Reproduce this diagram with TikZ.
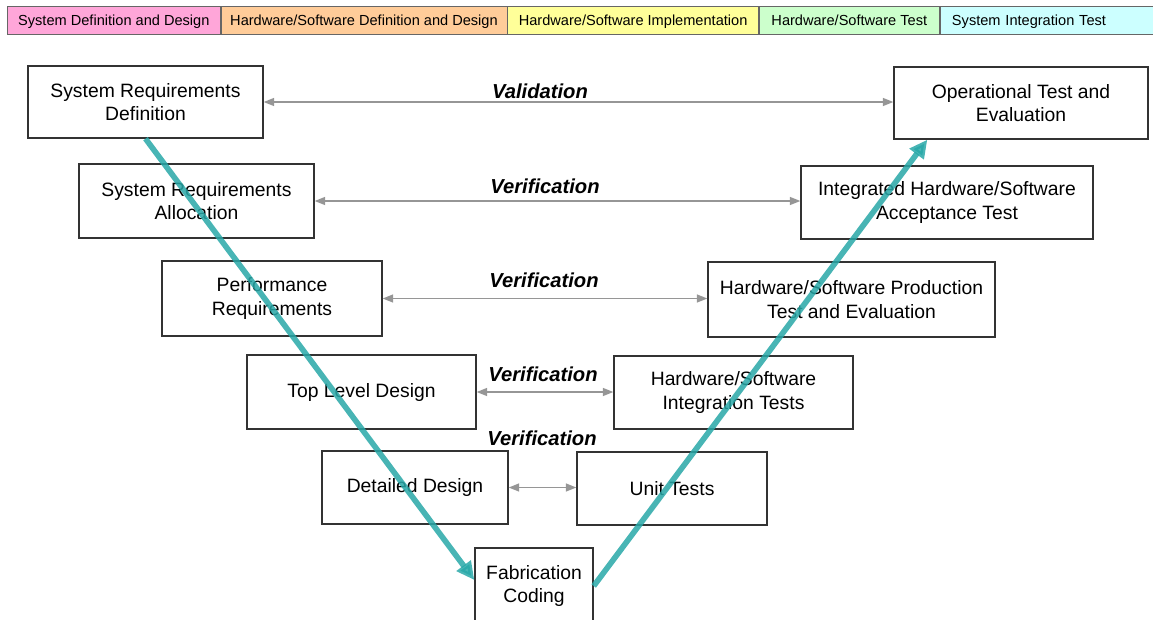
\documentclass[tikz,border=0pt]{standalone}
\usepackage{fontspec}
\setmainfont{Liberation Sans}
\usetikzlibrary{arrows.meta, positioning}
\usepackage{xcolor}
\definecolor{vTeal}{RGB}{40,168,168}
\definecolor{checkGray}{RGB}{150,150,150}
\definecolor{phasePink}{RGB}{255,166,217}
\definecolor{phaseOrange}{RGB}{255,204,153}
\definecolor{phaseYellow}{RGB}{255,255,153}
\definecolor{phaseGreen}{RGB}{204,255,204}
\definecolor{phaseCyan}{RGB}{204,255,255}
\tikzset{
    phase/.style={draw=black!60, thin, minimum height=0.56cm, inner sep=0pt, text height=1.6ex, text depth=0.45ex, font=\fontsize{8.3}{10}\selectfont},
    stage/.style={draw=black!80, line width=0.8pt, fill=white, align=center, inner sep=0pt, font=\fontsize{11}{13.2}\selectfont},
    check/.style={draw=checkGray, line width=0.8pt, {Triangle[length=2.1mm, width=1.6mm]}-{Triangle[length=2.1mm, width=1.6mm]}},
    checklabel/.style={font=\fontsize{11.5}{13}\selectfont\bfseries\itshape},
    flow/.style={draw=vTeal, line width=3.2pt, opacity=0.85, -{Triangle[length=3.6mm, width=3.4mm]}}
}

\begin{document}
\begin{tikzpicture}[x=0.02cm, y=-0.02cm]
    \useasboundingbox (0,0) rectangle (1153,619);

    % Phase legend along the top
    \node[phase, fill=phasePink, minimum width=4.26cm, anchor=west] (pinkphase) at (7,20) {System Definition and Design};
    \node[phase, fill=phaseOrange, minimum width=5.72cm, right=0pt of pinkphase] (orangephase) {Hardware/Software Definition and Design};
    \node[phase, fill=phaseYellow, minimum width=5.02cm, right=0pt of orangephase] (yellowphase) {Hardware/Software Implementation};
    \node[phase, fill=phaseGreen, minimum width=3.60cm, right=0pt of yellowphase] (greenphase) {Hardware/Software Test};
    \node[phase, fill=phaseCyan, text width=3.78cm, inner xsep=0.24cm, align=left, right=0pt of greenphase] (cyanphase) {System Integration Test};

    % Left leg of the V
    \node[stage, minimum width=4.70cm, minimum height=1.44cm] (sysdef) at (145.5,102) {System Requirements\\Definition};
    \node[stage, minimum width=4.70cm, minimum height=1.48cm] (sysalloc) at (196.5,201) {System Requirements\\Allocation};
    \node[stage, minimum width=4.40cm, minimum height=1.50cm] (perfreq) at (272,298.5) {Performance\\Requirements};
    \node[stage, minimum width=4.58cm, minimum height=1.48cm] (toplevel) at (361.5,392) {Top Level Design};
    \node[stage, minimum width=3.72cm, minimum height=1.46cm] (detailed) at (415,487.5) {Detailed Design};

    % Bottom of the V
    \node[stage, minimum width=2.36cm, minimum height=1.52cm] (fabcode) at (534,586) {Fabrication\\Coding};

    % Right leg of the V
    \node[stage, minimum width=3.80cm, minimum height=1.46cm] (unittest) at (672,488.5) {Unit Tests};
    \node[stage, minimum width=4.78cm, minimum height=1.46cm] (inttest) at (733.5,392.5) {Hardware/Software\\Integration Tests};
    \node[stage, minimum width=5.74cm, minimum height=1.50cm] (prodtest) at (851.5,299.5) {Hardware/Software Production\\Test and Evaluation};
    \node[stage, minimum width=5.84cm, minimum height=1.46cm] (accept) at (947,202.5) {Integrated Hardware/Software\\Acceptance Test};
    \node[stage, minimum width=5.08cm, minimum height=1.44cm] (optest) at (1021,103) {Operational Test and\\Evaluation};

    % Validation and verification links
    \draw[check] (sysdef.east) -- (sysdef.east -| optest.west);
    \draw[check] (sysalloc.east) -- (sysalloc.east -| accept.west);
    \draw[check] (perfreq.east) -- (perfreq.east -| prodtest.west);
    \draw[check] (toplevel.east) -- (toplevel.east -| inttest.west);
    \draw[check] (detailed.east) -- (detailed.east -| unittest.west);

    \node[checklabel] (vallabel) at (540,91) {Validation};
    \node[checklabel] (verlabela) at (545,186) {Verification};
    \node[checklabel] (verlabelb) at (544,280) {Verification};
    \node[checklabel] (verlabelc) at (543,374) {Verification};
    \node[checklabel] (verlabeld) at (542,438) {Verification};

    % The V itself
    \coordinate (optip) at ([xshift=0.68cm]optest.south west);
    \draw[flow] (sysdef.south) -- ([yshift=0.12cm]fabcode.west);
    \draw[flow] (fabcode.east) -- (optip);
\end{tikzpicture}
\end{document}
